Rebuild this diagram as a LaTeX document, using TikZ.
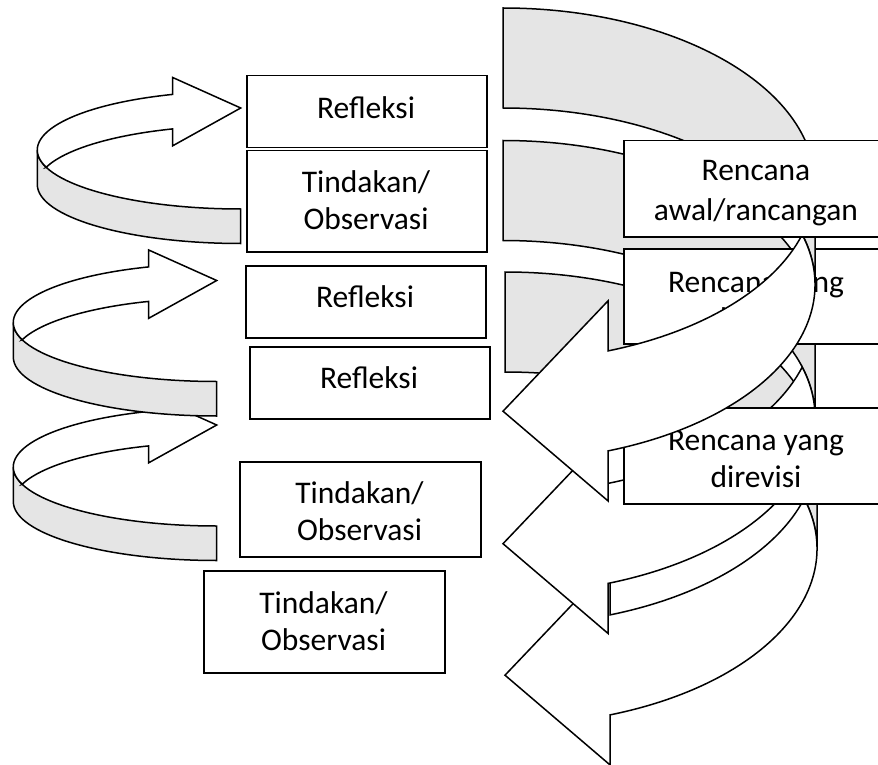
\documentclass[tikz,border=0pt]{standalone}
\usepackage{fontspec}
\setmainfont{Carlito}
\newcommand{\BigArrowAt}[2]{%
\begin{scope}[shift={(#1,#2)}]
\filldraw[backpart] (815,284.6) arc[start angle=0,end angle=-90,x radius=312,y radius=176.6] -- (503,8) arc[start angle=-90,end angle=0,x radius=312,y radius=176.6] -- cycle;
\filldraw[frontpart] (802.2,234.6) arc[start angle=-16.45,end angle=70.33,x radius=312,y radius=176.6] -- (608,500.9) -- (503,411.2) -- (608,300.9) -- (608,350.9) arc[start angle=70.33,end angle=16.45,x radius=312,y radius=176.6] -- cycle;
\end{scope}}
\newcommand{\SmallArrowAt}[2]{%
\begin{scope}[shift={(#1,#2)}]
\filldraw[backpart] (37.3,150) arc[start angle=180,end angle=90,x radius=203.4,y radius=59] -- (240.7,243.5) arc[start angle=90,end angle=180,x radius=203.4,y radius=59] -- cycle;
\filldraw[frontpart] (46.19,167.25) arc[start angle=163,end angle=250.47,x radius=203.4,y radius=59] -- (172.7,77.5) -- (240.7,108) -- (172.7,145.8) -- (172.7,128.9) arc[start angle=250.47,end angle=197,x radius=203.4,y radius=59] -- cycle;
\end{scope}}
\begin{document}
\begin{tikzpicture}[x=1pt,y=-1pt,
  box/.style={draw=black, line width=1.5pt, fill=white, inner sep=0pt, anchor=north west},
  txt/.style={font=\fontsize{31.5}{38}\selectfont, anchor=base, inner sep=0pt},
  backpart/.style={fill=gray!20, draw=black, line width=1.5pt, line join=miter},
  frontpart/.style={fill=white, draw=black, line width=1.5pt, line join=miter}]
\useasboundingbox (0,0) rectangle (878,765);
\clip (0,0) rectangle (878,765);
% small curved arrows on the left
\SmallArrowAt{-24}{317}
\SmallArrowAt{-24}{172.5}
\SmallArrowAt{0}{0}
% left boxes
\node[box, minimum width=240, minimum height=72] (b1) at (246,75) {};
\node[txt] (t1) at (366,119) {Refleksi};
\node[box, minimum width=240, minimum height=101] (b2) at (246,150) {};
\node[txt] (t2a) at (366,192) {Tindakan/};
\node[txt] (t2b) at (366,229) {Observasi};
\node[box, minimum width=240, minimum height=72] (b3) at (245,265) {};
\node[txt] (t3) at (365,307) {Refleksi};
\node[box, minimum width=240, minimum height=72] (b4) at (249,346) {};
\node[txt] (t4) at (369,388) {Refleksi};
\node[box, minimum width=241, minimum height=95] (b5) at (239,461) {};
\node[txt] (t5a) at (359.5,503) {Tindakan/};
\node[txt] (t5b) at (359.5,540) {Observasi};
\node[box, minimum width=241, minimum height=102] (b6) at (203,570) {};
\node[txt] (t6a) at (323.5,613) {Tindakan/};
\node[txt] (t6b) at (323.5,650) {Observasi};
% big curved arrows on the right
\BigArrowAt{2}{264}
\BigArrowAt{0}{132.5}
\node[box, minimum width=266, minimum height=95] (b8) at (623,248) {};
\node[txt] (t8a) at (756,292) {Rencana yang};
\node[txt] (t8b) at (756,329) {direvisi};
\node[box, minimum width=266, minimum height=96] (b9) at (623,407) {};
\node[txt] (t9a) at (756,450) {Rencana yang};
\node[txt] (t9b) at (756,487) {direvisi};
\BigArrowAt{0}{0}
\node[box, minimum width=266, minimum height=96] (b7) at (623,140) {};
\node[txt] (t7a) at (756,180) {Rencana};
\node[txt] (t7b) at (756,220) {awal/rancangan};
\end{tikzpicture}
\end{document}
